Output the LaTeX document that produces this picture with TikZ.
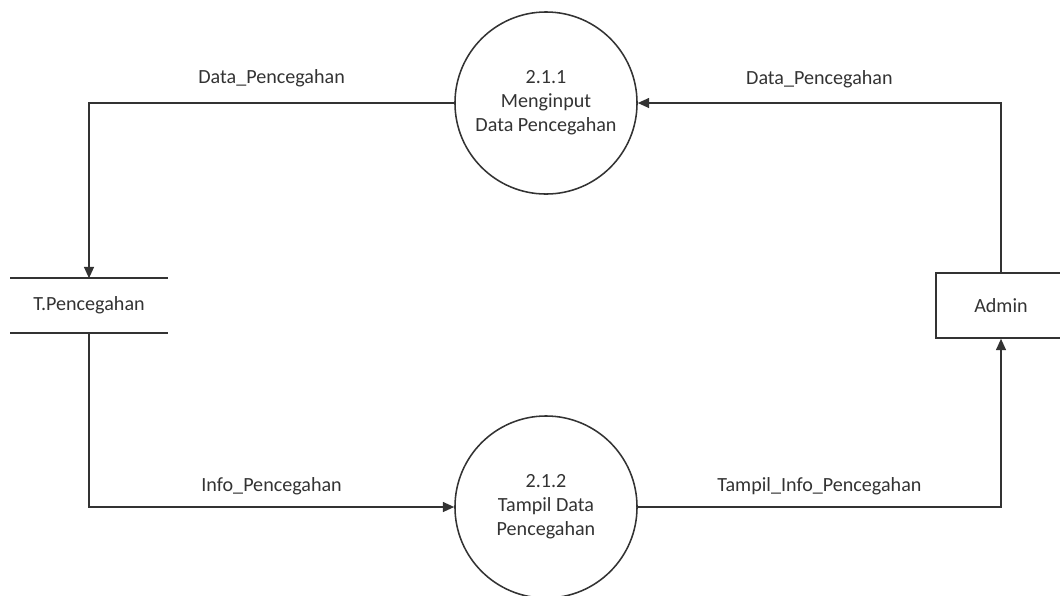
\documentclass[tikz,border=0pt]{standalone}
\usepackage{fontspec}
\setmainfont{Carlito}
\usetikzlibrary{arrows.meta,positioning}

\begin{document}
\begin{tikzpicture}[->,>={Triangle[length=8pt,width=7pt]},x=0.025cm,y=-0.025cm,
   line width=1.1pt, color=black!80, font=\fontsize{14.3}{17}\selectfont]
   \tikzset{
     process/.style={draw, circle, minimum size=4.55cm, inner sep=0pt, align=center},
     store/.style={minimum width=3.9cm, minimum height=1.325cm, inner sep=0pt},
     entity/.style={draw, rectangle, minimum width=3.25cm, minimum height=1.625cm},
     flow/.style={anchor=base, inner sep=0pt}
   }
   \useasboundingbox (0,0) rectangle (1060,595);
   \node[process] (p1) at (546,103) {2.1.1\\Menginput\\Data Pencegahan};
   \node[process] (p2) at (546,507) {2.1.2\\Tampil Data\\Pencegahan};
   \node[store] (store) at (89,305.5) {T.Pencegahan};
   \node[entity] (admin) at (1001,305.5) {Admin};
   \draw[-] (store.north west) -- (store.north east)
            (store.south west) -- (store.south east);
  \draw (p1.west) -| node[flow, pos=.25, yshift=14pt] (f1) {Data\_Pencegahan} (store.north);
  \draw (admin.north) |- node[flow, pos=.75, yshift=13pt] (f2) {Data\_Pencegahan} (p1.east);
  \draw (store.south) |- node[flow, pos=.75, yshift=11pt] (f3) {Info\_Pencegahan} (p2.west);
  \draw (p2.east) -| node[flow, pos=.25, yshift=11pt] (f4) {Tampil\_Info\_Pencegahan} (admin.south);
\end{tikzpicture}
\end{document}
